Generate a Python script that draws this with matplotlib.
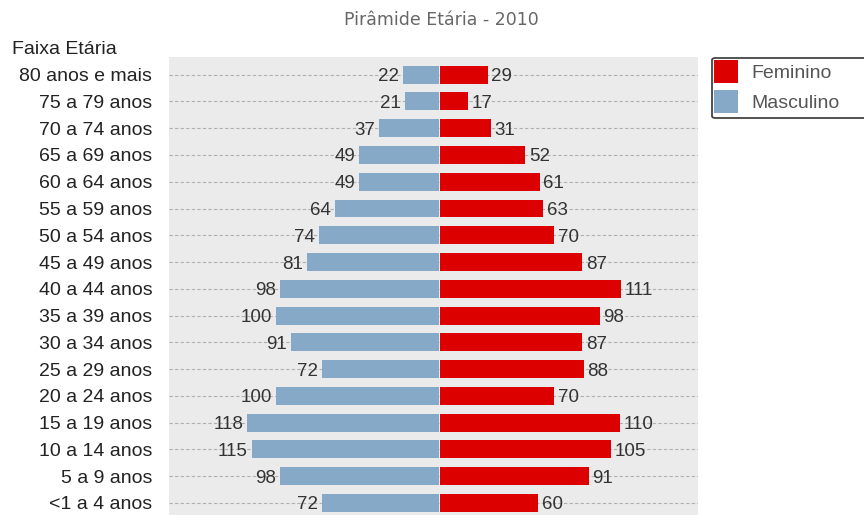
import matplotlib.pyplot as plt
from matplotlib.patches import Patch, FancyBboxPatch

categories = ["80 anos e mais", "75 a 79 anos", "70 a 74 anos", "65 a 69 anos",
              "60 a 64 anos", "55 a 59 anos", "50 a 54 anos", "45 a 49 anos",
              "40 a 44 anos", "35 a 39 anos", "30 a 34 anos", "25 a 29 anos",
              "20 a 24 anos", "15 a 19 anos", "10 a 14 anos", "5 a 9 anos",
              "<1 a 4 anos"]
masculino = [22, 21, 37, 49, 49, 64, 74, 81, 98, 100, 91, 72, 100, 118, 115, 98, 72]
feminino = [29, 17, 31, 52, 61, 63, 70, 87, 111, 98, 87, 88, 70, 110, 105, 91, 60]

W, H = 864, 515
fig = plt.figure(figsize=(W / 100, H / 100), dpi=100)
ax = fig.add_axes([169 / W, 0, (698 - 169) / W, 1 - 57 / H])
ax.set_facecolor("#ebebeb")

n = len(categories)
ys = list(range(n))
blue = "#87a9c8"
red = "#dd0000"

for y in ys:
    ax.axhline(y, color="#b0b0b0", lw=0.8, ls=(0, (3, 2)), zorder=1)

ax.barh(ys, [-v for v in masculino], height=0.67, color=blue, zorder=2)
ax.barh(ys, feminino, height=0.67, left=0.8, color=red, zorder=2)

lab_kw = dict(fontsize=13.5, color="#333333", family="Liberation Sans",
              va="center_baseline", zorder=3)
for y, v in zip(ys, masculino):
    ax.text(-v - 2.5, y, str(v), ha="right", **lab_kw)
for y, v in zip(ys, feminino):
    ax.text(v + 3.0, y, str(v), ha="left", **lab_kw)

ax.set_xlim(-166, 159)
ax.set_ylim(n - 1 + 0.45, -0.66)
ax.set_xticks([])
ax.set_yticks(ys)
ax.set_yticklabels(categories, fontsize=14, family="Liberation Sans", color="#222222",
                   va="center_baseline")
ax.tick_params(axis="y", length=0, pad=12)
for s in ax.spines.values():
    s.set_visible(False)

fig.text(441 / W, 1 - 25 / H, "Pirâmide Etária - 2010", ha="center", va="baseline",
         fontsize=12.5, color="#666666", family="DejaVu Sans")
fig.text(12 / W, 1 - 54 / H, "Faixa Etária", ha="left", va="baseline",
         fontsize=14, color="#222222", family="Liberation Sans")

# legend frame (extends past the right edge like in the reference)
frame = FancyBboxPatch((712 / W, 1 - 118 / H), 170 / W, 60 / H,
                       boxstyle="round,pad=0,rounding_size=0.004",
                       transform=fig.transFigure, facecolor="white",
                       edgecolor="#444444", lw=1.3, zorder=5)
fig.patches.append(frame)

handles = [Patch(facecolor=red, edgecolor="none", label="Feminino"),
           Patch(facecolor=blue, edgecolor="none", label="Masculino")]
leg = fig.legend(handles=handles, loc="upper left", bbox_to_anchor=(714 / W, 1 - 60 / H),
                 prop={"family": "Liberation Sans", "size": 14}, frameon=False,
                 handlelength=1.25, handleheight=1.45, handletextpad=0.65,
                 borderpad=0, labelspacing=0.36, borderaxespad=0)
leg.set_zorder(6)
for t in leg.get_texts():
    t.set_color("#555555")

fig.savefig("out.png", dpi=100)
